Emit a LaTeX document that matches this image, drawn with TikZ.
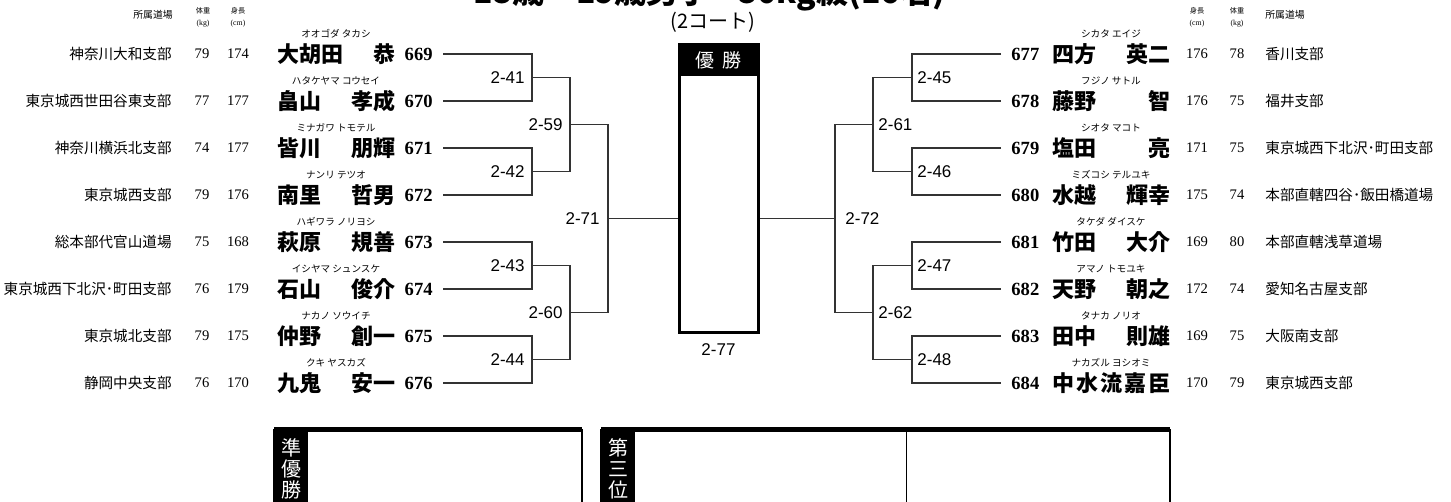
\documentclass[tikz,border=0pt]{standalone}
\usepackage{fontspec}
\setmainfont{Liberation Serif}
\newfontfamily\jpfont{Noto Sans CJK JP}
\newfontfamily\labfont{Liberation Sans}
\usetikzlibrary{positioning}
\tikzset{
  dojo/.style={font=\jpfont\fontsize{7.3}{7.3}\selectfont, inner sep=0pt},
  data/.style={font=\fontsize{7.3}{7.3}\selectfont, inner sep=0pt},
  sname/.style={font=\jpfont\bfseries\fontsize{11}{11}\selectfont, inner sep=0pt, text width=59pt},
  kana/.style={font=\jpfont\fontsize{4.8}{4.8}\selectfont, inner sep=0pt},
  pnum/.style={font=\bfseries\fontsize{9.3}{9.3}\selectfont, inner sep=0pt, inner xsep=5pt},
  mlab/.style={font=\labfont\fontsize{8.5}{8.5}\selectfont, inner sep=0pt},
  hdjp/.style={font=\jpfont\fontsize{4.9}{4.9}\selectfont, inner sep=0pt},
  hdsm/.style={font=\jpfont\fontsize{3.6}{3.6}\selectfont, inner sep=0pt},
  hdunit/.style={font=\fontsize{3.9}{3.9}\selectfont, inner sep=0pt},
  bracket/.style={line width=0.55pt, draw=black!80},
  tabtext/.style={font=\jpfont\fontsize{10}{10.5}\selectfont, text=white, align=center, inner sep=0pt},
}
\begin{document}
\begin{tikzpicture}[x=0.5pt, y=-0.5pt]
\useasboundingbox (0,0) rectangle (1451,502);
\clip (0,0) rectangle (1451,502);
\node[font=\jpfont\bfseries\fontsize{16}{16}\selectfont, inner sep=0pt, anchor=base] (title) at (709,4) {18歳〜19歳男子 −80kg級(16名)};
\node[font=\jpfont\fontsize{10}{10}\selectfont, inner sep=0pt] (court) at (713,22) {(2コート)};
\node[hdjp] (hdojoL) at (153,15) {所属道場};
\node[hdsm] (hwL) at (203,11) {体重};
\node[hdunit] (hwuL) at (203,24) {(kg)};
\node[hdsm] (hhL) at (238,11) {身長};
\node[hdunit] (hhuL) at (238,24) {(cm)};
\node[hdsm] (hhR) at (1197,11) {身長};
\node[hdunit] (hhuR) at (1197,24) {(cm)};
\node[hdsm] (hwR) at (1237,11) {体重};
\node[hdunit] (hwuR) at (1237,24) {(kg)};
\node[hdjp, anchor=west] (hdojoR) at (1265,15) {所属道場};
\foreach \i/\zk/\sei/\mei/\kana/\dojo/\wgt/\hgt in {
  0/669/大胡田/恭/オオゴダ タカシ/神奈川大和支部/79/174,
  1/670/畠山/孝成/ハタケヤマ コウセイ/東京城西世田谷東支部/77/177,
  2/671/皆川/朋輝/ミナガワ トモテル/神奈川横浜北支部/74/177,
  3/672/南里/哲男/ナンリ テツオ/東京城西支部/79/176,
  4/673/萩原/規善/ハギワラ ノリヨシ/総本部代官山道場/75/168,
  5/674/石山/俊介/イシヤマ シュンスケ/東京城西下北沢･町田支部/76/179,
  6/675/仲野/創一/ナカノ ソウイチ/東京城北支部/79/175,
  7/676/九鬼/安一/クキ ヤスカズ/静岡中央支部/76/170}
{
  \pgfmathsetmacro\y{54+47*\i}
  \node[dojo, anchor=east] (d\zk) at (172,\y) {\dojo};
  \node[data] (w\zk) at (202,\y) {\wgt};
  \node[data] (h\zk) at (238,\y) {\hgt};
  \node[sname, anchor=west] (s\zk) at (277,\y) {\sei\hfill\mei};
  \node[kana] (k\zk) at (336,\y-20) {\kana};
  \node[pnum, anchor=east] (n\zk) at (443,\y) {\zk};
}
\foreach \i/\zk/\sei/\mei/\kana/\hgt/\wgt/\dojo in {
  0/677/四方/英二/シカタ エイジ/176/78/香川支部,
  1/678/藤野/智/フジノ サトル/176/75/福井支部,
  2/679/塩田/亮/シオタ マコト/171/75/東京城西下北沢･町田支部,
  3/680/水越/輝幸/ミズコシ テルユキ/175/74/本部直轄四谷･飯田橋道場,
  4/681/竹田/大介/タケダ ダイスケ/169/80/本部直轄浅草道場,
  5/682/天野/朝之/アマノ トモユキ/172/74/愛知名古屋支部,
  6/683/田中/則雄/タナカ ノリオ/169/75/大阪南支部,
  7/684/中\hfill 水\hfill 流/嘉\hfill 臣/ナカズル ヨシオミ/170/79/東京城西支部}
{
  \pgfmathsetmacro\y{54+47*\i}
  \node[pnum, anchor=west] (n\zk) at (1001,\y) {\zk};
  \node[sname, anchor=west] (s\zk) at (1052,\y) {\sei\hfill\mei};
  \node[kana] (k\zk) at (1111,\y-20) {\kana};
  \node[data] (h\zk) at (1197,\y) {\hgt};
  \node[data] (w\zk) at (1237,\y) {\wgt};
  \node[dojo, anchor=west] (d\zk) at (1265,\y) {\dojo};
}
\coordinate (m41) at (532,77.5);
\coordinate (m42) at (532,171.5);
\coordinate (m43) at (532,265.5);
\coordinate (m44) at (532,359.5);
\coordinate (m59) at (570,124.5);
\coordinate (m60) at (570,312.5);
\coordinate (m71) at (608,218.5);
\coordinate (m45) at (912,77.5);
\coordinate (m46) at (912,171.5);
\coordinate (m47) at (912,265.5);
\coordinate (m48) at (912,359.5);
\coordinate (m61) at (873,124.5);
\coordinate (m62) at (873,312.5);
\coordinate (m72) at (835,218.5);
\node[draw, line width=1.5pt, minimum width=39.5pt, minimum height=143.5pt, inner sep=0pt] (win) at (718.5,188.5) {};
\fill (win.north west) rectangle ([yshift=-16.5pt]win.north east);
\node[font=\jpfont\fontsize{9.5}{9.5}\selectfont, text=white, inner sep=0pt] (wintitle) at ([yshift=-8.25pt]win.north) {優\hspace{0.4em}勝};
\node[mlab, below=5pt of win] (l77) {2-77};
\draw[bracket] (n669.east) -| (m41) |- (n670.east);
\draw[bracket] (n671.east) -| (m42) |- (n672.east);
\draw[bracket] (n673.east) -| (m43) |- (n674.east);
\draw[bracket] (n675.east) -| (m44) |- (n676.east);
\draw[bracket] (m41) -| (m59) |- (m42);
\draw[bracket] (m43) -| (m60) |- (m44);
\draw[bracket] (m59) -| (m71) |- (m60);
\draw[bracket] (m71) -- (m71 -| win.west);
\draw[bracket] (n677.west) -| (m45) |- (n678.west);
\draw[bracket] (n679.west) -| (m46) |- (n680.west);
\draw[bracket] (n681.west) -| (m47) |- (n682.west);
\draw[bracket] (n683.west) -| (m48) |- (n684.west);
\draw[bracket] (m45) -| (m61) |- (m46);
\draw[bracket] (m47) -| (m62) |- (m48);
\draw[bracket] (m61) -| (m72) |- (m62);
\draw[bracket] (m72) -- (m72 -| win.east);
\node[mlab, left=3.5pt of m41] (l41) {2-41};
\node[mlab, left=3.5pt of m42] (l42) {2-42};
\node[mlab, left=3.5pt of m43] (l43) {2-43};
\node[mlab, left=3.5pt of m44] (l44) {2-44};
\node[mlab, left=3.5pt of m59] (l59) {2-59};
\node[mlab, left=3.5pt of m60] (l60) {2-60};
\node[mlab, left=4pt of m71] (l71) {2-71};
\node[mlab, right=2.5pt of m45] (l45) {2-45};
\node[mlab, right=2.5pt of m46] (l46) {2-46};
\node[mlab, right=2.5pt of m47] (l47) {2-47};
\node[mlab, right=2.5pt of m48] (l48) {2-48};
\node[mlab, right=2.5pt of m61] (l61) {2-61};
\node[mlab, right=2.5pt of m62] (l62) {2-62};
\node[mlab, right=5pt of m72] (l72) {2-72};
\draw[line width=1pt] (274,430) rectangle (582,530);
\fill (274,427) rectangle (582,432);
\fill (274,427) rectangle (308,530);
\node[tabtext] (second) at (291,469) {準\\優\\勝};
\draw[line width=1pt] (601,430) rectangle (1170,530);
\fill (601,427) rectangle (1170,432);
\fill (601,427) rectangle (635,530);
\draw[line width=0.5pt] (906,432) -- (906,530);
\node[tabtext] (third) at (618,469) {第\\三\\位};
\end{tikzpicture}
\end{document}
